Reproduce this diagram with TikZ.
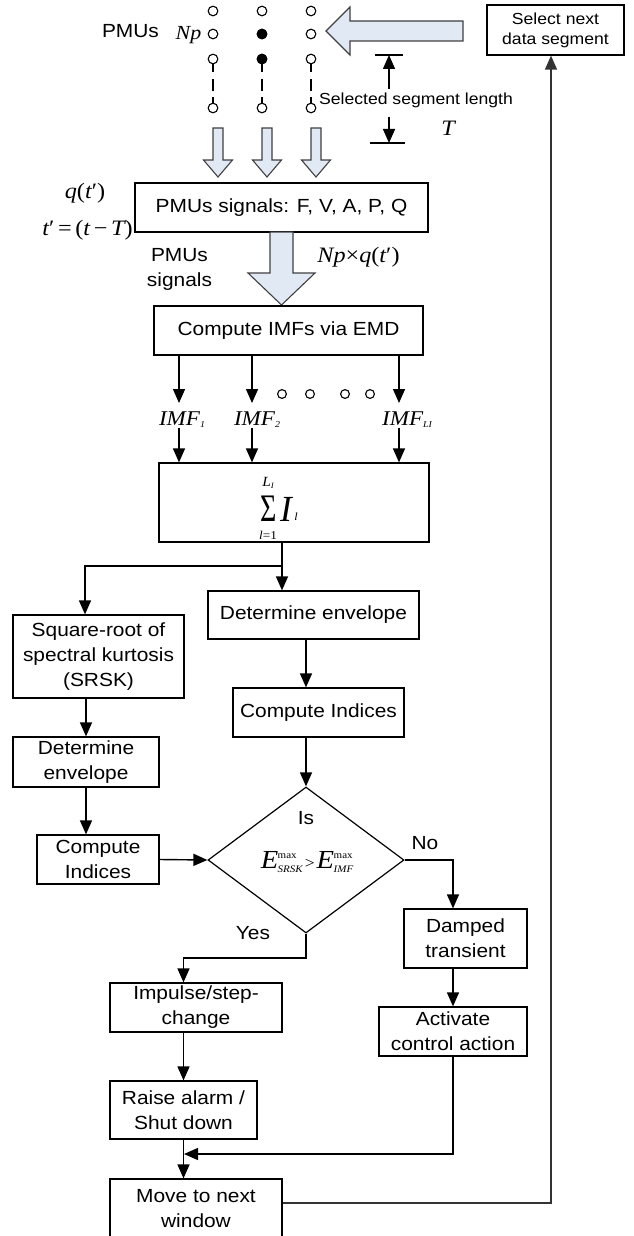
\documentclass[tikz,border=0pt]{standalone}
\usepackage{fontspec}
\setmainfont{Liberation Sans}[FakeStretch=1.1]
\newfontfamily\tms{Liberation Serif}[FakeStretch=1.1]
\usetikzlibrary{arrows.meta,shapes.geometric}
\definecolor{blkfill}{RGB}{225,233,245}
\newcommand\mainsz{\fontsize{19}{25}\selectfont}
\newcommand\smallsz{\fontsize{16}{20}\selectfont}
\newcommand\emx[1]{\textit{E}\kern-0.5pt\rlap{\raisebox{10pt}{\fontsize{10}{10}\selectfont\upshape max}}\raisebox{-4pt}{\fontsize{10}{10}\selectfont\itshape #1}}
\newcommand\imfl[1]{{\itshape IMF}\raisebox{-2pt}{\fontsize{9}{9}\selectfont\itshape #1}}
\begin{document}
\begin{tikzpicture}[x=1pt,y=-1pt,
  fbox/.style={draw=black, line width=1.2pt, inner sep=0pt, align=center, font=\mainsz},
  arr/.style={draw=black, line width=1.4pt, -{Triangle[length=14pt,width=12pt]}},
  ln/.style={draw=black, line width=1.4pt},
  blk/.style={draw=black!75, line width=1.1pt, fill=blkfill},
  dot/.style={draw=black, line width=1.1pt, fill=white},
  mth/.style={font=\tms\fontsize{22}{22}\selectfont, inner sep=1pt}]
\clip (0,0) rectangle (634,1236);
\useasboundingbox (0,0) rectangle (634,1236);

% ---- top: PMU data grid ----
\node[font=\mainsz] (pmus) at (130.5,31) {PMUs};
\node[font=\tms\itshape\fontsize{20}{20}\selectfont] (np) at (188.5,35) {Np};
\foreach \x in {213,262,311}{
  \draw[black, line width=1.1pt, dash pattern=on 9pt off 7pt on 12pt off 6pt] (\x,63.5) -- (\x,103.5);
  \foreach \y in {11,34,59,108}{ \draw[dot] (\x,\y) circle (4.8); }
}
\fill[black] (262,34) circle (5.3) (262,59) circle (5.3);

% big left block arrow
\draw[blk] (463,21) -- (350,21) -- (350,7) -- (326,31) -- (350,55) -- (350,41) -- (463,41) -- cycle;

% select next box
\node[fbox, font=\smallsz, minimum width=137pt, minimum height=50pt] (sel) at (555.5,30) {Select next\\data segment};

% segment-length dimension
\node[font=\smallsz] (seglen) at (416,100) {Selected segment length};
\node[font=\tms\itshape\fontsize{22}{22}\selectfont] (T) at (448,128) {T};
\coordinate (dimtop) at (389,55);
\coordinate (dimbot) at (389,143);
\draw[ln, line width=1.1pt] ([xshift=-14pt]dimtop) -- ([xshift=14pt]dimtop);
\draw[ln, line width=1.1pt] ([xshift=-19pt]dimbot) -- ([xshift=16pt]dimbot);
\draw[arr] (seglen.north -| dimtop) -- (dimtop);
\draw[arr] ([yshift=-6pt]seglen.south -| dimbot) -- (dimbot);

% small down block arrows
\foreach \c in {218,267,316}{
  \draw[blk] (\c-5,128) -- (\c+5,128) -- (\c+5,160) -- (\c+14.5,160) -- (\c,177) -- (\c-14.5,160) -- (\c-5,160) -- cycle;
}

% PMU signals box
\node[fbox, minimum width=293pt, minimum height=49pt] (sig) at (281.5,207.5) {PMUs signals: F, V, A, P, Q};
\node[mth] (qt) at (85,193) {\itshape q\upshape(\itshape t\upshape′)};
\node[mth] (tt) at (87.5,230) {\itshape t\upshape′\,=\,(\itshape t\upshape\,−\,\itshape T\upshape)};
\node[font=\mainsz, align=center] (pmusig) at (179.5,269.5) {PMUs\\signals};
\node[mth] (npq) at (358.5,257) {\itshape Np\upshape×\itshape q\upshape(\itshape t\upshape′)};

% big down block arrow
\draw[blk] (270,232) -- (293,232) -- (293,273) -- (315,273) -- (281.5,305) -- (248,273) -- (270,273) -- cycle;

% EMD box
\node[fbox, minimum width=269pt, minimum height=49pt] (emd) at (288.5,330.5) {Compute IMFs via EMD};

% IMF labels and arrows
\node[font=\tms\fontsize{21}{21}\selectfont] (imf1) at (182,420) {\imfl{1}};
\node[font=\tms\fontsize{21}{21}\selectfont] (imf2) at (257,420) {\imfl{2}};
\node[font=\tms\fontsize{21}{21}\selectfont] (imfl) at (407,420) {\imfl{LI}};
\foreach \x/\n in {179/a,252/b,399/c}{
  \coordinate (t\n) at (\x,403);
  \coordinate (s\n) at (\x,428);
}
\draw[arr] (emd.south -| ta) -- (ta);
\draw[arr] (emd.south -| tb) -- (tb);
\draw[arr] (emd.south -| tc) -- (tc);
\foreach \x in {282,310,345,370}{ \draw[dot] (\x,394) circle (4.4); }

% sum box
\node[fbox, minimum width=270pt, minimum height=79pt] (sum) at (294,502.5) {};
\draw[arr] (sa) -- (sum.north -| sa);
\draw[arr] (sb) -- (sum.north -| sb);
\draw[arr] (sc) -- (sum.north -| sc);
\node[font=\tms, inner sep=0pt] (sigma) at (268.5,509) {\scalebox{0.85}[1.3]{\fontsize{30}{30}\selectfont Σ}};
\node[font=\tms, inner sep=0pt] (ibig) at (286,509) {\scalebox{1}[1.15]{\fontsize{32}{32}\selectfont\itshape I}};
\node[font=\tms\fontsize{11}{11}\selectfont\itshape, inner sep=0pt] (isub) at (296,517) {l};
\node[font=\tms\fontsize{14}{14}\selectfont, inner sep=0pt] (supl) at (268,483) {\itshape L\raisebox{-2pt}{\fontsize{8}{8}\selectfont I}};
\node[font=\tms\fontsize{12}{12}\selectfont, inner sep=0pt] (subl) at (268,535) {\itshape l\upshape=1};

% branch
\coordinate (br) at (282,566);
\coordinate (bl) at (85,566);
\node[fbox, minimum width=211pt, minimum height=48pt] (dr) at (313.5,615) {Determine envelope};
\node[fbox, minimum width=171pt, minimum height=83pt] (srsk) at (98.5,656.5) {Square-root of\\spectral kurtosis\\(SRSK)};
\draw[ln] (sum.south -| br) -- (br);
\draw[arr] (br) -- (dr.north -| br);
\draw[arr] (br) -- (bl) -- (srsk.north -| bl);

% left branch
\node[fbox, minimum width=146pt, minimum height=50pt] (del) at (86,762) {Determine\\envelope};
\node[fbox, minimum width=122pt, minimum height=49pt] (cil) at (98,859.5) {Compute\\Indices};
\draw[arr] (srsk.south -| del) -- (del.north);
\draw[arr] (del.south) -- (cil.north -| del.south);

% right branch
\node[fbox, minimum width=171pt, minimum height=49pt] (cir) at (318.5,712.5) {Compute Indices};
\node[draw=black, line width=1.2pt, shape=diamond, inner sep=0pt, minimum width=196pt, minimum height=146pt] (dia) at (306,860) {};
\draw[arr] (dr.south -| dia) -- (cir.north -| dia);
\draw[arr] (cir.south -| dia) -- (dia.north);
\draw[arr] (cil.east) -- (dia.west);
\node[font=\mainsz] (is) at (306,818) {Is};
\node[font=\tms\fontsize{26}{26}\selectfont, inner sep=0pt] (cond) at (307,862) {\emx{SRSK}\kern2pt{\fontsize{16}{16}\selectfont >}\kern2pt\emx{IMF}};

% Yes path
\node[fbox, minimum width=172pt, minimum height=49pt] (imp) at (196,1007.5) {Impulse/step-\\change};
\node[fbox, minimum width=147pt, minimum height=58pt] (rai) at (183.5,1110) {Raise alarm /\\Shut down};
\node[fbox, minimum width=172pt, minimum height=60pt] (move) at (196,1209) {Move to next\\window};
\coordinate (yb) at (306,958);
\node[font=\mainsz] (yes) at (253,933) {Yes};
\draw[arr] (dia.south) -- (yb) -| (imp.north -| rai.north);
\draw[arr] (imp.south -| rai.south) -- (rai.north);
\draw[arr] (rai.south) -- (move.north -| rai.south);

% No path
\node[fbox, minimum width=123pt, minimum height=59pt] (dmp) at (465.5,938.5) {Damped\\transient};
\node[fbox, minimum width=148pt, minimum height=49pt] (act) at (453,1031.5) {Activate\\control action};
\coordinate (nb) at (453,860);
\node[font=\mainsz] (no) at (425,843) {No};
\draw[arr] (dia.east) -- (nb) -- (dmp.north -| nb);
\draw[arr] (dmp.south -| act) -- (act.north);
\coordinate (jn) at (184,1154);
\draw[arr] (act.south) |- (jn);

% feedback
\draw[arr, draw=black!80] ([yshift=6pt]move.east) -| ([xshift=-4.5pt]sel.south);
\end{tikzpicture}
\end{document}
